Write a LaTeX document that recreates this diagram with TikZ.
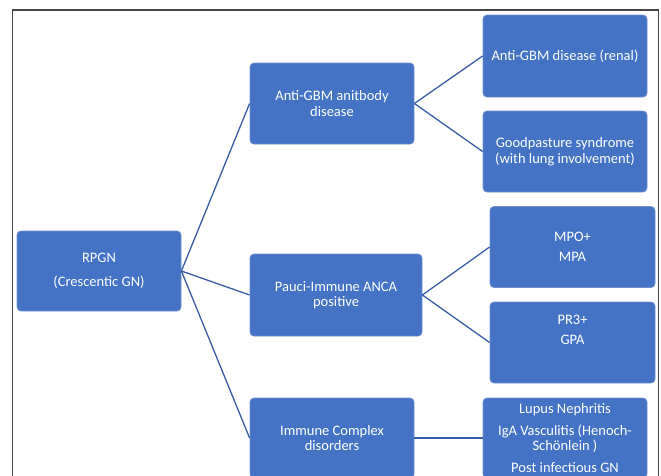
\documentclass[tikz,border=0pt]{standalone}
\usepackage{fontspec}
\setmainfont{Carlito}
\definecolor{boxblue}{HTML}{4472C4}
\definecolor{boxedge}{HTML}{7090D0}
\definecolor{connblue}{HTML}{3A5CA6}
\definecolor{framegray}{HTML}{454545}
\tikzset{
  box/.style={rectangle, rounded corners=4pt, fill=boxblue, draw=boxedge, line width=0.8pt,
    text=white, font=\fontsize{14.5}{15.5}\selectfont, align=center, inner sep=0pt},
  conn/.style={draw=connblue, line width=1.3pt},
  frameline/.style={draw=framegray, line width=1.3pt}
}
\begin{document}
\begin{tikzpicture}[x=1pt,y=-1pt]
\useasboundingbox (0,0) rectangle (661,475);
\clip (0,0) rectangle (661,475);
\draw[frameline] (12.5,10) rectangle (658.5,490);
\node[box, minimum width=164pt, minimum height=80pt] (rpgn) at (99,271) {RPGN\\[8.5pt](Crescentic GN)};
\node[box, minimum width=164pt, minimum height=81pt] (agbm) at (332,103.5) {Anti-GBM anitbody\\disease};
\node[box, minimum width=172pt, minimum height=82pt] (pauci) at (336,295) {Pauci-Immune ANCA\\positive};
\node[box, minimum width=164pt, minimum height=80pt] (immune) at (332,438) {Immune Complex\\disorders};
\node[box, minimum width=164pt, minimum height=82pt] (renal) at (565,56) {Anti-GBM disease (renal)};
\node[box, minimum width=164pt, minimum height=81pt] (good) at (565,151.5) {Goodpasture syndrome\\(with lung involvement)};
\node[box, minimum width=165pt, minimum height=81pt] (mpo) at (572.5,247) {MPO+\\[4.5pt]MPA};
\node[box, minimum width=165pt, minimum height=81pt] (pr3) at (572.5,342.5) {PR3+\\[4.5pt]GPA\\[4.5pt]\strut};
\node[box, minimum width=164pt, minimum height=80pt] (lupus) at (565,438) {Lupus Nephritis\\[6.5pt]IgA Vasculitis (Henoch-\\Schönlein )\\[6pt]Post infectious GN};
\draw[conn] (rpgn.east) -- (agbm.west);
\draw[conn] (rpgn.east) -- (pauci.west);
\draw[conn] (rpgn.east) -- (immune.west);
\draw[conn] (agbm.east) -- (renal.west);
\draw[conn] (agbm.east) -- (good.west);
\draw[conn] (pauci.east) -- (mpo.west);
\draw[conn] (pauci.east) -- (pr3.west);
\draw[conn] (immune.east) -- (lupus.west);
\end{tikzpicture}
\end{document}
